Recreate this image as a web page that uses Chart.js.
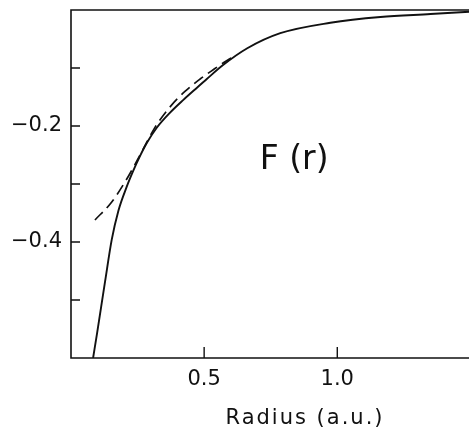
<!DOCTYPE html>
<html>
<head>
<meta charset="utf-8">
<script src="https://cdn.jsdelivr.net/npm/chart.js@4"></script>
<style>
  html, body { margin: 0; padding: 0; background: #fff; overflow: hidden; }
  canvas { display: block; }
</style>
</head>
<body>
<canvas id="chart" width="537" height="432"></canvas>
<script>
// Computed F(r) (solid) and its model fit (dashed), radius in atomic units
const solidRadius = [0.083, 0.098, 0.128, 0.153, 0.178, 0.209, 0.234, 0.259, 0.285, 0.322, 0.372, 0.422, 0.473, 0.510, 0.571, 0.662, 0.786, 0.974, 1.162, 1.350, 1.496];
const solidF      = [-0.600, -0.557, -0.468, -0.396, -0.346, -0.305, -0.277, -0.252, -0.229, -0.203, -0.177, -0.155, -0.134, -0.119, -0.095, -0.066, -0.040, -0.022, -0.012, -0.007, -0.003];

const fitRadius = [0.090, 0.153, 0.215, 0.263, 0.316, 0.372, 0.429, 0.485, 0.534, 0.586, 0.620];
const fitF      = [-0.362, -0.331, -0.287, -0.247, -0.202, -0.167, -0.140, -0.119, -0.103, -0.087, -0.078];

const labeledY = [-0.2, -0.4];
const labeledX = [0.5, 1.0];
const curveLabel = 'F (r)';
const curveLabelAt = { r: 0.838, f: -0.259 };
const xTitle = 'Radius (a.u.)';

const ink = '#111';
const FONT = '"DejaVu Sans", sans-serif';

const toPoints = (xs, ys) => xs.map((x, i) => ({ x, y: ys[i] }));

// Frame (top, left, bottom), inward tick marks, curve label and axis title
const framePlugin = {
  id: 'frame',
  afterDraw(chart) {
    const { ctx, chartArea: a, scales: { x, y } } = chart;
    ctx.save();
    ctx.strokeStyle = ink;
    ctx.lineWidth = 1.6;
    ctx.beginPath();
    ctx.moveTo(a.right, a.top);
    ctx.lineTo(a.left, a.top);
    ctx.lineTo(a.left, a.bottom);
    ctx.lineTo(a.right, a.bottom);
    ctx.stroke();

    ctx.lineWidth = 1.4;
    ctx.beginPath();
    y.ticks.forEach(t => {
      if (t.value <= y.min + 1e-9 || t.value >= y.max - 1e-9) return;
      const p = y.getPixelForValue(t.value);
      ctx.moveTo(a.left, p);
      ctx.lineTo(a.left + 9, p);
    });
    x.ticks.forEach(t => {
      if (t.value <= x.min + 1e-9 || t.value >= x.max - 1e-9) return;
      const p = x.getPixelForValue(t.value);
      ctx.moveTo(p, a.bottom);
      ctx.lineTo(p, a.bottom - 11);
    });
    ctx.stroke();

    ctx.fillStyle = ink;
    ctx.textAlign = 'center';
    ctx.textBaseline = 'middle';
    ctx.font = '33px ' + FONT;
    ctx.fillText(curveLabel, x.getPixelForValue(curveLabelAt.r), y.getPixelForValue(curveLabelAt.f));

    // axis title, slightly tracked out
    ctx.font = '21px ' + FONT;
    ctx.letterSpacing = '2px';
    ctx.fillText(xTitle, (x.left + x.right) / 2 + 1, x.bottom - 13);
    ctx.restore();
  }
};

const near = (v, list) => list.some(u => Math.abs(u - v) < 1e-6);

new Chart(document.getElementById('chart'), {
  type: 'line',
  data: {
    datasets: [
      {
        data: toPoints(solidRadius, solidF),
        borderColor: ink,
        borderWidth: 1.9,
        pointRadius: 0,
        cubicInterpolationMode: 'monotone',
        fill: false
      },
      {
        data: toPoints(fitRadius, fitF),
        borderColor: ink,
        borderWidth: 1.7,
        borderDash: [11, 6],
        pointRadius: 0,
        cubicInterpolationMode: 'monotone',
        fill: false
      }
    ]
  },
  options: {
    responsive: false,
    animation: false,
    layout: { padding: { top: 10, left: 0, right: 0, bottom: 0 } },
    plugins: { legend: { display: false }, tooltip: { enabled: false } },
    scales: {
      x: {
        type: 'linear',
        min: 0,
        max: 1.75,
        afterFit(scale) { scale.height = 74; scale.paddingLeft = 0; scale.paddingRight = 0; },
        grid: { display: false, drawTicks: false },
        border: { display: false },
        ticks: {
          stepSize: 0.5,
          padding: 9,
          color: ink,
          font: { family: FONT, size: 21 },
          maxRotation: 0,
          autoSkip: false,
          callback: v => near(v, labeledX) ? v.toFixed(1) : ''
        }
      },
      y: {
        min: -0.6,
        max: 0,
        afterFit(scale) { scale.width = 71; scale.paddingTop = 0; scale.paddingBottom = 0; },
        grid: { display: false, drawTicks: false },
        border: { display: false },
        ticks: {
          stepSize: 0.1,
          padding: 9,
          color: ink,
          font: { family: FONT, size: 21 },
          autoSkip: false,
          callback: v => near(v, labeledY) ? '\u2212' + Math.abs(v).toFixed(1) : ''
        }
      }
    }
  },
  plugins: [framePlugin]
});
</script>
</body>
</html>
